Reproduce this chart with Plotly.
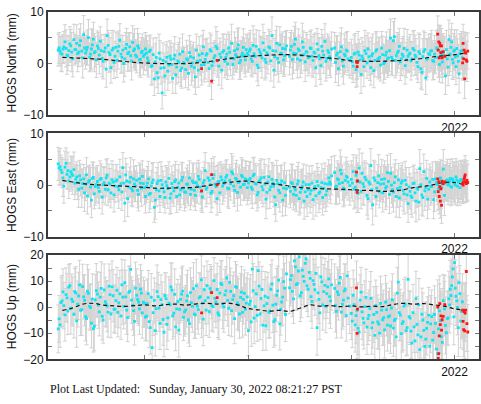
import plotly.graph_objects as go

# --- solution epochs (decimal year), two interleaved sets ---
epochs = [
    2018.160, 2018.178, 2018.197, 2018.215, 2018.236, 2018.254, 2018.273, 2018.291, 2018.312, 2018.330,
    2018.349, 2018.367, 2018.388, 2018.406, 2018.425, 2018.443, 2018.464, 2018.482, 2018.501, 2018.519,
    2018.540, 2018.558, 2018.577, 2018.595, 2018.616, 2018.634, 2018.653, 2018.671, 2018.692, 2018.710,
    2018.729, 2018.747, 2018.768, 2018.786, 2018.805, 2018.823, 2018.844, 2018.862, 2018.881, 2018.899,
    2018.920, 2018.938, 2018.957, 2018.975, 2018.996,
    2019.015, 2019.033, 2019.052, 2019.070, 2019.091, 2019.109, 2019.128, 2019.146, 2019.167, 2019.185,
    2019.204, 2019.222, 2019.243, 2019.261, 2019.280, 2019.298, 2019.319, 2019.337, 2019.356, 2019.374,
    2019.395, 2019.413, 2019.432, 2019.450, 2019.471, 2019.489, 2019.508, 2019.526, 2019.547, 2019.565,
    2019.584, 2019.602, 2019.623, 2019.641, 2019.660, 2019.678, 2019.699, 2019.717, 2019.736, 2019.754,
    2019.775, 2019.793, 2019.812, 2019.830, 2019.851, 2019.869, 2019.888, 2019.906, 2019.927, 2019.945,
    2019.964, 2019.982,
    2020.003, 2020.021, 2020.040, 2020.058, 2020.079, 2020.097, 2020.116, 2020.134, 2020.155, 2020.173,
    2020.192, 2020.210, 2020.231, 2020.249, 2020.268, 2020.286, 2020.307, 2020.325, 2020.344, 2020.362,
    2020.401, 2020.419, 2020.440, 2020.458, 2020.477, 2020.495, 2020.516, 2020.534, 2020.553, 2020.571,
    2020.592, 2020.610, 2020.629, 2020.647, 2020.668, 2020.686, 2020.705, 2020.723, 2020.744, 2020.762,
    2020.781, 2020.799, 2020.838, 2020.856, 2020.875, 2020.893, 2020.914, 2020.932, 2020.951, 2020.969,
    2021.000, 2021.018, 2021.037, 2021.055, 2021.076, 2021.094, 2021.113, 2021.131, 2021.152, 2021.170,
    2021.189, 2021.207, 2021.228, 2021.246, 2021.265, 2021.283, 2021.304, 2021.322, 2021.341, 2021.359,
    2021.380, 2021.398, 2021.417, 2021.435, 2021.456, 2021.474, 2021.493, 2021.511, 2021.532, 2021.550,
    2021.569, 2021.587, 2021.608, 2021.626, 2021.645, 2021.663, 2021.684, 2021.702, 2021.721, 2021.739,
    2021.760, 2021.778, 2021.797, 2021.815, 2021.836, 2021.854, 2021.873, 2021.891, 2021.912, 2021.930,
    2021.945, 2021.958, 2021.972, 2021.986, 2022.000, 2022.014, 2022.029, 2022.044, 2022.060, 2022.076,
]

epochs_mid = [
    2018.169, 2018.187, 2018.206, 2018.225, 2018.245, 2018.263, 2018.282, 2018.301, 2018.321, 2018.339,
    2018.358, 2018.377, 2018.397, 2018.415, 2018.434, 2018.453, 2018.473, 2018.491, 2018.510, 2018.529,
    2018.549, 2018.567, 2018.586, 2018.605, 2018.625, 2018.643, 2018.662, 2018.681, 2018.701, 2018.719,
    2018.738, 2018.757, 2018.777, 2018.795, 2018.814, 2018.833, 2018.853, 2018.871, 2018.890, 2018.909,
    2018.929, 2018.947, 2018.966, 2018.985, 2019.005,
    2019.024, 2019.042, 2019.061, 2019.080, 2019.100, 2019.118, 2019.137, 2019.156, 2019.176, 2019.194,
    2019.213, 2019.232, 2019.252, 2019.270, 2019.289, 2019.308, 2019.328, 2019.346, 2019.365, 2019.384,
    2019.404, 2019.422, 2019.441, 2019.460, 2019.480, 2019.498, 2019.517, 2019.536, 2019.556, 2019.574,
    2019.593, 2019.612, 2019.632, 2019.650, 2019.669, 2019.688, 2019.708, 2019.726, 2019.745, 2019.764,
    2019.784, 2019.802, 2019.821, 2019.840, 2019.860, 2019.878, 2019.897, 2019.916, 2019.936, 2019.954,
    2019.973, 2019.992,
    2020.012, 2020.030, 2020.049, 2020.068, 2020.088, 2020.106, 2020.125, 2020.144, 2020.164, 2020.182,
    2020.201, 2020.220, 2020.240, 2020.258, 2020.277, 2020.296, 2020.316, 2020.334, 2020.353, 2020.372,
    2020.410, 2020.429, 2020.449, 2020.467, 2020.486, 2020.505, 2020.525, 2020.543, 2020.562, 2020.581,
    2020.601, 2020.619, 2020.638, 2020.657, 2020.677, 2020.695, 2020.714, 2020.733, 2020.753, 2020.771,
    2020.790, 2020.809, 2020.847, 2020.865, 2020.884, 2020.903, 2020.923, 2020.941, 2020.960, 2020.985,
    2021.009, 2021.027, 2021.046, 2021.066, 2021.085, 2021.104, 2021.122, 2021.142, 2021.161, 2021.180,
    2021.198, 2021.218, 2021.237, 2021.256, 2021.274, 2021.294, 2021.313, 2021.332, 2021.350, 2021.370,
    2021.389, 2021.408, 2021.426, 2021.446, 2021.465, 2021.484, 2021.502, 2021.522, 2021.541, 2021.560,
    2021.578, 2021.598, 2021.617, 2021.636, 2021.654, 2021.674, 2021.693, 2021.712, 2021.730, 2021.750,
    2021.769, 2021.788, 2021.806, 2021.826, 2021.845, 2021.864, 2021.882, 2021.902, 2021.921, 2021.938,
    2021.952, 2021.965, 2021.979, 2021.993, 2022.007, 2022.022, 2022.037, 2022.052, 2022.068,
]

north = [
    2.6, 2.4, 1.8, 3.2, 2.9, 1.5, 3.8, 2.2, 4.6, 2.7,
    1.9, 3.5, 2.4, 5.6, 2.0, 3.1, 1.2, 2.8, 4.7, 2.3,
    3.4, 1.6, 2.5, 0.4, 3.0, 5.4, 2.1, -0.8, 2.9, 1.4,
    0.6, 3.3, 1.8, 2.6, 0.9, 3.7, 2.2, 1.5, 4.1, 2.8,
    1.3, 3.0, 0.8, 2.4, 1.7,
    2.0, 0.5, 2.6, -0.4, -3.0, 1.2, -2.8, 0.9, -5.7, -0.8,
    0.3, -1.5, 1.4, -0.2, 0.9, -2.2, 0.5, 1.8, -0.9, 0.2,
    -1.2, 0.7, 2.1, -0.5, 1.1, -2.6, 0.4, 1.6, -0.3, 3.2,
    0.8, 1.9, -1.0, 2.4, 0.3, 1.5, 2.9, -0.5, 1.2, 2.2,
    0.4, 1.8, 3.0, 1.0, -0.2, 2.5, 1.3, 3.6, 0.6, 2.0,
    1.5, 2.7,
    1.6, 2.8, 0.4, 1.9, 3.3, -0.8, 2.2, 1.1, 2.6, 0.2,
    1.7, 3.0, 5.4, -1.3, 2.4, 1.0, 3.6, 1.9, 0.7, 2.8,
    1.4, 3.3, 2.0, 4.7, 0.9, 2.5, 1.6, 3.1, 0.3, 2.2,
    1.2, 2.9, 0.6, 2.0, 3.8, 1.5, -0.4, 2.4, 4.3, 1.0,
    2.1, 0.8, 3.0, 1.6, -1.0, 2.3, 0.5, 1.8, 2.6, 0.9,
    1.2, -0.5, 2.0, 0.4, 1.6, -2.1, 0.9, 2.5, 0.1, 1.3,
    -0.8, 1.9, 0.6, 2.7, 1.0, -0.3, 1.7, 0.2, 2.2, 1.1,
    4.9, 0.8, 5.2, 1.5, 2.4, 0.3, 1.8, 2.9, 0.7, 1.4,
    2.0, 0.9, 2.6, 1.3, -0.6, 1.9, -1.7, 2.3, -2.8, 1.0,
    1.7, 2.5, 0.4, 1.2, 2.8, -0.2, 1.6, 2.1, -2.4, 0.9,
    4.6, 1.8, 4.2, 0.1, 2.6, -0.6, 1.5, -2.0, 2.4, 1.1,
]
north_mid = [
    3.0, 1.9, 2.8, 4.2, 1.6, 2.5, 3.4, 0.9, 2.7, 3.9,
    2.2, 4.4, 1.1, 3.0, 2.6, 5.0, 1.8, 3.6, 2.1, 0.7,
    2.9, 4.3, 1.0, 2.3, -1.1, 3.5, 1.7, 2.6, 0.2, 3.1,
    2.4, 4.5, 1.2, 0.0, 2.9, 1.9, 3.2, 0.5, 2.5, 1.6,
    3.4, 0.7, 2.1, 1.4, 2.8,
    1.1, 2.3, -0.6, 1.7, 0.3, -1.8, 2.0, -0.9, 0.6, -2.4,
    1.2, -0.3, 0.8, -2.9, 1.6, -0.7, 0.2, -1.4, 2.3, 0.0,
    0.9, -1.9, 1.3, 0.1, -0.8, 2.6, -1.3, 0.6, 1.9, -0.2,
    1.6, 0.2, 2.7, -0.4, 1.1, 3.3, 0.6, 1.8, -1.3, 2.5,
    1.2, -0.1, 2.2, 3.9, 0.9, 1.7, 2.8, 0.1, 1.5, 3.1,
    0.7, 2.0,
    2.4, 0.9, 3.5, 1.4, -0.3, 2.7, 1.8, 4.0, 0.8, 2.1,
    3.2, 0.5, 2.5, 1.3, 3.9, 0.2, 2.0, 2.9, 1.5, 3.4,
    2.6, 0.8, 3.7, 1.9, 2.8, 0.6, 4.2, 1.7, 2.3, 1.1,
    3.0, 1.4, 2.2, -0.8, 2.7, 0.9, 3.3, 1.6, 0.4, 2.5,
    1.3, 2.8, 0.2, 2.0, 1.1, 3.2, -0.5, 1.5, 2.4, 0.6,
    0.3, 1.8, -1.2, 2.2, 0.7, 1.4, -0.6, 1.9, 2.8, 0.5,
    1.5, -1.4, 2.4, 0.8, 1.2, 3.0, 0.0, 1.6, 0.9, 2.5,
    1.2, 4.4, 0.6, 2.1, 3.3, 0.9, 1.4, -0.4, 2.6, 1.8,
    0.5, 2.9, 1.6, 0.2, 2.3, -1.0, 1.3, 2.7, 0.8, 1.9,
    2.4, 0.6, 1.8, 3.0, 1.2, 2.2, 0.3, 1.5, 2.7, -0.7,
    1.6, 3.1, 0.8, 2.4, 1.3, 2.9, 0.4, 1.9, 2.5,
]

east = [
    4.1, 3.6, 2.4, -0.2, 4.2, 2.8, 1.6, 2.2, 3.0, 1.1,
    0.5, 1.8, -0.6, 1.2, 0.2, -2.1, 0.9, -2.9, 1.5, -0.3,
    0.7, -1.2, 1.3, 0.1, -0.8, 1.9, 0.4, -1.5, 0.6, -0.2,
    1.0, -0.9, 0.3, 3.4, -3.5, 0.8, -0.4, 1.5, -1.1, 0.2,
    0.9, -1.8, 0.4, 1.7, -0.5,
    -0.3, 1.2, -1.6, 0.5, -4.3, -0.9, 0.8, -2.2, 0.1, -1.3,
    0.6, -0.7, -2.5, 0.3, -1.1, 1.0, -0.4, -1.9, 0.9, -0.6,
    -1.4, 0.2, 1.4, -0.8, 0.5, -2.0, -0.1, 1.1, -1.2, 0.4,
    2.8, -0.5, 0.9, -1.6, 1.3, 0.2, -2.6, 0.7, 1.6, -0.2,
    0.8, 1.9, -0.7, 0.3, 2.2, -1.0, 1.1, 0.5, -0.4, 1.6,
    0.2, 1.0,
    0.4, 1.3, -0.8, 2.1, 0.2, -1.4, 0.9, -0.3, 1.5, -2.7,
    0.6, -0.9, 1.1, -0.2, -3.8, 0.3, -1.5, 0.8, -0.6, -2.0,
    -0.4, 0.5, -1.8, -0.9, 0.2, -2.6, -0.7, 0.6, -1.3, -2.2,
    0.1, -1.0, -2.8, -0.3, 0.7, -1.6, -0.5, -2.4, 0.3, -1.1,
    1.4, 0.2, 2.4, -0.2, 1.0, 2.9, 0.5, -0.8, 1.7, 0.6,
    1.1, 2.6, -0.4, 0.8, 3.3, -1.2, 0.3, 1.5, -2.0, 0.6,
    3.8, -3.8, 0.9, -0.6, 1.8, 0.2, -1.5, 1.2, -0.3, 0.7,
    2.3, -0.9, 0.5, -2.2, 1.0, -0.4, 0.8, -1.7, 0.1, -3.6,
    -1.2, -2.4, 0.4, -3.1, -0.8, 3.2, -1.9, 2.6, -0.5, -2.7,
    0.6, -0.3, -2.8, 1.2, 0.1, 0.8, -0.5, 3.1, 0.4, 1.0,
    0.2, 1.3, -0.4, 0.9, 0.5, 1.6, -0.2, 0.7, 1.1, 0.3,
]
east_mid = [
    3.3, 2.9, 1.4, 3.5, 2.1, 0.8, 2.6, 1.9, 0.4, 1.6,
    -0.8, 1.0, 0.3, -1.5, 2.0, 0.6, -0.4, 1.3, -1.7, 0.1,
    -0.5, 1.1, -2.3, 0.5, 1.4, -0.9, 0.2, 1.0, -1.9, 0.8,
    -0.3, 1.6, -1.3, 0.4, 2.0, -2.6, 0.6, -0.7, 1.2, -0.2,
    -1.0, 1.2, -0.6, 0.3, -2.2,
    0.4, -1.8, -0.2, 1.0, -2.9, 0.3, -1.1, 0.9, -0.6, -2.4,
    -0.1, 1.3, -1.7, -0.5, 0.7, -2.2, 0.4, -0.9, 1.5, -1.3,
    0.2, -0.6, -1.8, 0.8, -1.0, 0.5, 1.7, -0.4, -2.3, 0.9,
    -0.8, 1.4, 0.1, -1.2, 2.0, -0.3, 0.6, -1.5, 1.0, 0.3,
    1.5, -0.6, 0.9, 2.6, -0.2, 1.3, -1.4, 0.7, 1.9, 0.1,
    1.2, -0.5,
    1.0, -0.4, 1.8, 0.3, -1.9, 0.7, 1.4, -0.9, 0.2, -1.4,
    1.6, -0.3, 0.4, -2.3, 0.9, -1.0, 0.2, -2.9, 0.5, -0.7,
    -1.2, 0.3, -0.5, -2.0, 0.8, -1.4, -0.2, -3.1, 0.1, -0.9,
    -1.7, 0.4, -0.8, -2.1, -0.1, -1.3, 0.5, -0.6, -1.9, 0.2,
    0.6, 1.8, -0.4, 1.2, 0.3, 2.2, -0.6, 0.9, 1.5, -0.1,
    0.4, -0.8, 1.9, -1.6, 0.6, 2.3, -0.3, 1.0, -2.6, 0.2,
    -0.9, 1.4, -2.2, 0.5, -1.2, 1.1, 0.3, -0.6, 2.4, -1.8,
    0.0, -1.3, 1.6, -0.7, -2.5, 0.4, -1.0, 0.9, -1.9, -0.4,
    -2.1, 0.3, -1.5, -0.6, -3.3, 0.1, -2.4, -1.1, 1.3, -0.8,
    -0.2, 1.1, -1.3, 0.5, -0.7, 1.4, 0.2, -2.0, 0.9, 0.0,
    0.8, -0.3, 1.2, 0.4, 0.0, 1.0, 0.6, -0.5, 0.9,
]

up = [
    -8.3, -6.8, 2.4, 0.6, 4.8, -1.5, 8.3, 3.1, -2.7, 5.5,
    1.2, 8.6, -0.9, 4.0, -3.6, 6.2, 0.3, -6.1, -8.2, 2.8,
    5.0, -1.8, 7.2, -4.9, 2.1, 0.4, 8.1, -2.6, 4.4, -0.7,
    6.5, 1.7, -3.3, 3.9, 9.4, -1.1, 5.7, 14.5, 0.8, -5.4,
    4.6, 2.0, 6.9, -2.2, 1.5,
    -3.4, 5.2, -7.8, -15.5, 2.6, -0.5, 4.1, -6.2, 1.0, -9.6,
    3.3, -4.1, 0.9, 6.6, -2.3, -7.5, 2.2, -0.8, 5.0, -3.9,
    -1.0, 4.4, -6.3, 1.8, 7.1, -2.9, 0.4, 3.6, 10.5, -4.6,
    2.5, 8.3, -1.7, 5.9, 0.2, 3.4, 6.8, -3.0, 9.1, 1.3,
    4.7, 11.2, -0.4, 6.1, 2.9, -4.4, 7.6, 0.9, 3.8, -2.0,
    5.3, 1.6,
    -9.0, 2.3, 14.6, -4.2, 5.1, 14.0, -2.6, 6.8, 0.5, -7.1,
    3.7, -1.4, 8.9, -5.5, 1.2, 6.3, -6.4, 2.0, 9.8, -2.8,
    7.4, 12.1, 3.2, 15.5, 9.0, 19.3, 5.6, 11.8, 16.8, 8.2,
    13.4, 4.1, 10.2, 6.7, -7.8, 3.0, 11.6, 0.9, 8.4, 5.2,
    10.9, 2.4, 7.2, -1.6, 4.8, 11.4, 1.1, 6.3, -3.2, 3.5,
    -2.4, 4.6, -6.8, -1.2, -9.5, 5.8, -4.3, 0.2, -7.6, -3.1,
    3.4, -5.9, -10.8, -2.0, -6.5, 1.5, -4.8, -8.7, -0.9, -3.7,
    -7.2, 2.8, -5.1, -11.4, 9.6, -3.0, -6.3, 0.4, -9.0, 10.7,
    -4.2, -13.8, -7.5, 3.3, -10.6, -16.3, -2.7, -8.9, -12.2, -5.8,
    -14.9, -3.6, -9.7, -6.2, -17.8, -1.4, -11.3, 2.5, -7.0, -4.4,
    3.2, 6.9, 8.3, 14.7, 17.1, 4.2, -0.1, 9.4, -5.3, 2.1,
]
up_mid = [
    -4.5, 1.8, 5.9, -2.9, 3.6, 7.7, -0.4, 2.2, 6.0, -5.2,
    4.3, -1.2, 7.9, 2.6, -4.4, 5.3, -0.1, 3.1, -7.3, 6.4,
    0.8, 3.9, -3.5, 6.6, 1.1, -1.9, 4.8, 7.8, -0.8, 2.5,
    -2.0, 5.1, 8.6, 0.3, 4.0, -4.0, 6.2, 2.7, -1.3, 7.3,
    3.0, -0.6, 5.4, 1.9, -3.8,
    1.4, -5.5, 3.8, -2.1, -9.0, 6.0, -0.3, 2.9, -4.7, 4.5,
    -6.6, 1.6, 7.8, -3.3, 4.9, -0.6, -8.8, 3.0, 6.2, -1.8,
    2.4, -4.9, 5.6, 0.3, -2.7, 8.2, -0.9, 4.1, 1.6, 6.7,
    -1.1, 3.7, 7.1, 0.6, 10.2, 2.0, -2.2, 5.4, 8.7, 0.1,
    6.3, 2.6, 9.5, -1.3, 4.4, 7.9, 1.7, -2.6, 5.8, 3.0,
    -0.8, 4.0,
    1.1, -5.6, 6.4, 0.2, -3.1, 8.1, 3.4, -6.9, 4.2, 1.4,
    -2.0, 6.9, 0.8, -4.8, 4.6, 10.4, -0.7, 3.9, 7.3, 12.8,
    10.6, 6.1, 17.8, 8.7, 13.9, 4.4, 14.2, 9.9, 18.6, 6.9,
    11.1, 2.2, 8.8, 13.0, 5.5, -2.2, 9.7, 6.0, 0.3, 7.8,
    4.1, 8.6, 0.6, 5.9, 9.2, -1.9, 2.7, 7.0, 12.0, 0.4,
    -5.3, 1.0, -3.2, -8.1, 2.7, -1.8, -6.0, 3.8, -4.4, -0.5,
    -7.9, -2.8, 0.6, -5.6, -9.9, -1.1, -4.0, 2.0, -6.9, -3.3,
    -0.3, -8.0, -4.6, 5.4, -2.1, -10.1, -5.5, 1.3, -7.8, -3.6,
    -9.2, -2.1, -12.9, -6.6, 0.9, -11.4, -4.9, -15.0, -8.1, -3.0,
    -6.4, -12.6, -2.8, -16.1, -8.3, -5.1, -13.5, -0.6, -9.8, -4.1,
    0.9, 4.5, 11.6, -3.7, 7.3, 2.4, -7.8, 5.2, -1.6,
]

sig_north = [
    3.1, 2.8, 3.4, 3.0, 3.6, 2.9, 3.3, 3.8, 3.0, 2.7,
    3.5, 3.2, 2.9, 3.7, 3.1, 3.4, 2.8, 3.9, 3.3, 3.0,
    2.9, 3.6, 3.1, 3.4, 2.7, 3.2, 3.8, 3.0, 3.5, 2.9,
    3.3, 3.0, 3.7, 2.8, 3.4, 3.1, 3.6, 3.0, 3.2, 3.9,
    3.1, 2.8, 3.5, 3.3, 3.0,
    3.4, 3.1, 2.9, 3.6, 3.2, 3.8, 3.0, 3.5, 3.1, 2.8,
    3.3, 3.7, 3.0, 3.4, 2.9, 3.6, 3.2, 3.1, 3.9, 3.0,
    3.5, 2.8, 3.3, 3.7, 3.0, 3.4, 3.1, 3.6, 2.9, 3.2,
    3.8, 3.0, 3.4, 3.1, 3.6, 2.9, 3.3, 3.7, 3.0, 3.5,
    3.2, 3.9, 3.1, 3.4, 2.8, 3.6, 3.0, 3.3, 3.7, 3.1,
    3.4, 3.0,
    3.3, 3.6, 3.0, 3.8, 3.2, 3.5, 3.1, 3.9, 3.4, 3.0,
    3.7, 3.2, 3.6, 3.3, 4.0, 3.1, 3.5, 3.8, 3.2, 3.4,
    3.6, 3.1, 3.9, 3.3, 3.7, 3.0, 3.5, 3.2, 3.8, 3.4,
    3.1, 3.6, 3.3, 3.9, 3.0, 3.5, 3.7, 3.2, 3.4, 3.8,
    3.2, 3.5, 3.0, 3.7, 3.3, 3.6, 3.1, 3.9, 3.4, 3.2,
    3.5, 3.2, 3.8, 3.4, 3.1, 3.7, 3.3, 3.9, 3.0, 3.6,
    3.4, 3.8, 3.2, 3.5, 4.0, 3.1, 3.6, 3.3, 3.9, 3.4,
    3.7, 3.2, 3.5, 3.8, 3.3, 3.6, 3.0, 3.9, 3.4, 3.2,
    3.6, 3.3, 3.8, 3.5, 3.1, 3.7, 3.4, 4.0, 3.2, 3.6,
    3.3, 3.9, 3.5, 3.2, 3.7, 3.4, 3.8, 3.1, 3.6, 3.3,
    3.8, 3.4, 3.6, 3.2, 3.9, 3.5, 3.3, 3.7, 3.4, 4.0,
]
sig_north_mid = [
    3.0, 3.4, 2.8, 3.3, 3.7, 2.9, 3.2, 3.5, 3.0, 3.6,
    2.8, 3.3, 3.9, 3.1, 2.9, 3.5, 3.2, 3.0, 3.7, 3.4,
    3.1, 2.8, 3.6, 3.2, 3.5, 2.9, 3.3, 3.8, 3.1, 3.0,
    3.5, 3.2, 2.9, 3.6, 3.1, 3.4, 2.8, 3.7, 3.3, 3.0,
    3.4, 3.1, 2.9, 3.6, 3.2,
    3.3, 3.0, 3.6, 3.2, 3.5, 2.9, 3.7, 3.1, 3.4, 3.8,
    3.0, 3.5, 3.2, 2.9, 3.6, 3.3, 3.9, 3.0, 3.4, 3.1,
    3.6, 3.2, 3.0, 3.5, 3.8, 3.1, 3.3, 2.9, 3.6, 3.4,
    3.1, 3.7, 3.2, 3.5, 3.0, 3.8, 3.3, 3.1, 3.6, 3.2,
    3.5, 3.0, 3.4, 3.7, 3.1, 3.3, 3.9, 3.2, 3.0, 3.6,
    3.3, 3.5,
    3.5, 3.2, 3.8, 3.4, 3.1, 3.7, 3.3, 3.6, 4.0, 3.2,
    3.4, 3.9, 3.1, 3.6, 3.3, 3.8, 3.5, 3.2, 3.7, 3.0,
    3.4, 3.8, 3.5, 3.2, 3.9, 3.3, 3.6, 3.1, 3.7, 3.5,
    3.2, 3.8, 3.4, 3.6, 3.1, 4.0, 3.3, 3.5, 3.8, 3.2,
    3.6, 3.3, 3.9, 3.4, 3.1, 3.7, 3.5, 3.2, 3.8, 3.4,
    3.3, 3.7, 3.4, 4.0, 3.2, 3.6, 3.9, 3.5, 3.1, 3.8,
    3.6, 3.3, 3.7, 3.4, 3.9, 3.2, 3.8, 3.5, 3.6, 4.1,
    3.3, 3.7, 3.4, 3.9, 3.5, 3.2, 3.8, 3.6, 4.0, 3.3,
    3.7, 3.4, 3.9, 3.2, 3.6, 3.8, 3.5, 3.3, 4.0, 3.7,
    3.4, 3.8, 3.6, 3.3, 3.9, 3.5, 4.1, 3.4, 3.7, 3.6,
    3.9, 3.5, 3.8, 3.4, 4.0, 3.6, 3.3, 3.8, 3.7,
]

sig_east = [
    3.2, 3.5, 2.9, 3.3, 3.0, 3.6, 2.8, 3.1, 3.4, 2.9,
    3.3, 3.0, 3.7, 2.8, 3.2, 3.5, 3.0, 3.4, 2.9, 3.6,
    3.1, 3.3, 2.8, 3.5, 3.0, 3.2, 3.7, 2.9, 3.4, 3.1,
    3.0, 3.6, 3.2, 2.9, 3.5, 3.3, 3.0, 3.8, 3.1, 3.4,
    2.9, 3.2, 3.6, 3.0, 3.3,
    3.1, 3.4, 3.0, 3.7, 2.9, 3.3, 3.6, 3.1, 3.5, 3.0,
    3.2, 3.8, 3.1, 3.4, 3.0, 3.6, 3.3, 2.9, 3.5, 3.2,
    3.0, 3.7, 3.3, 3.1, 3.6, 2.9, 3.4, 3.2, 3.8, 3.0,
    3.5, 3.1, 3.3, 3.7, 3.0, 3.4, 3.2, 3.6, 2.9, 3.5,
    3.3, 3.0, 3.8, 3.2, 3.4, 3.1, 3.7, 3.0, 3.5, 3.3,
    3.2, 3.6,
    3.4, 3.1, 3.7, 3.3, 3.6, 3.0, 3.9, 3.2, 3.5, 3.8,
    3.1, 3.6, 3.3, 4.0, 3.2, 3.5, 3.7, 3.1, 3.4, 3.9,
    3.3, 3.6, 3.0, 3.8, 3.4, 3.2, 3.7, 3.5, 3.1, 3.9,
    3.6, 3.3, 3.8, 3.0, 3.5, 3.7, 3.2, 3.4, 4.0, 3.1,
    3.5, 3.8, 3.3, 3.6, 3.2, 3.9, 3.4, 3.1, 3.7, 3.5,
    3.6, 3.3, 3.9, 3.1, 3.7, 3.4, 4.0, 3.2, 3.8, 3.5,
    3.3, 3.9, 3.6, 3.2, 4.1, 3.4, 3.7, 3.5, 3.9, 3.3,
    3.8, 3.4, 3.6, 4.0, 3.2, 3.7, 3.5, 3.9, 3.3, 3.6,
    3.4, 3.8, 3.5, 4.0, 3.3, 3.7, 3.9, 3.4, 3.6, 3.8,
    3.5, 3.2, 3.7, 3.4, 3.9, 3.6, 3.3, 3.8, 3.5, 4.0,
    3.4, 3.7, 3.3, 3.6, 3.9, 3.5, 3.8, 3.4, 3.7, 3.5,
]
sig_east_mid = [
    3.3, 2.9, 3.6, 3.1, 2.8, 3.4, 3.0, 3.7, 3.2, 2.9,
    3.5, 3.1, 2.8, 3.6, 3.3, 3.0, 3.8, 3.2, 2.9, 3.4,
    3.0, 3.6, 3.3, 2.9, 3.5, 3.1, 3.0, 3.7, 3.3, 3.2,
    2.9, 3.4, 3.6, 3.0, 3.2, 3.5, 2.9, 3.3, 3.7, 3.0,
    3.4, 3.1, 3.5, 2.8, 3.2,
    3.2, 3.5, 3.0, 3.4, 3.7, 3.1, 2.9, 3.6, 3.3, 3.0,
    3.5, 3.2, 3.8, 3.0, 3.3, 3.1, 3.6, 3.4, 2.9, 3.7,
    3.1, 3.4, 3.0, 3.5, 3.2, 3.8, 3.1, 3.3, 3.0, 3.6,
    3.4, 2.9, 3.7, 3.2, 3.5, 3.1, 3.3, 3.8, 3.0, 3.4,
    3.2, 3.6, 3.1, 3.5, 3.3, 2.9, 3.6, 3.2, 3.4, 3.0,
    3.5, 3.3,
    3.6, 3.2, 3.5, 3.9, 3.1, 3.4, 3.7, 3.3, 3.8, 3.2,
    3.5, 3.0, 3.7, 3.4, 3.9, 3.3, 3.6, 3.1, 3.8, 3.5,
    3.2, 3.7, 3.4, 3.1, 3.6, 4.0, 3.3, 3.5, 3.8, 3.2,
    3.7, 3.4, 3.1, 3.9, 3.5, 3.3, 3.6, 3.8, 3.2, 3.5,
    3.4, 3.7, 3.2, 3.5, 3.9, 3.3, 3.6, 3.4, 3.1, 3.8,
    3.5, 3.8, 3.4, 3.7, 3.2, 3.9, 3.6, 3.3, 4.0, 3.5,
    3.7, 3.4, 3.8, 3.5, 3.2, 3.9, 3.6, 4.1, 3.4, 3.7,
    3.5, 3.9, 3.3, 3.6, 3.8, 3.4, 4.0, 3.7, 3.5, 3.8,
    3.6, 3.3, 3.9, 3.7, 3.4, 4.1, 3.6, 3.8, 3.5, 3.9,
    3.7, 3.4, 3.8, 3.6, 4.0, 3.5, 3.3, 3.9, 3.6, 3.8,
    3.4, 3.7, 3.9, 3.5, 3.8, 3.6, 4.0, 3.4, 3.7,
]

sig_up = [
    9.2, 8.6, 9.8, 8.9, 10.3, 9.0, 8.4, 9.6, 9.1, 10.0,
    8.8, 9.4, 9.9, 8.5, 9.3, 10.1, 8.7, 9.5, 9.0, 9.7,
    8.6, 9.2, 10.2, 8.9, 9.4, 9.8, 8.5, 9.1, 10.0, 9.3,
    8.8, 9.6, 9.0, 10.4, 8.7, 9.3, 9.9, 8.6, 9.5, 9.1,
    10.1, 8.9, 9.4, 9.7, 8.8,
    9.5, 8.9, 10.2, 9.1, 8.6, 9.8, 9.3, 10.0, 8.7, 9.4,
    9.9, 8.8, 9.6, 10.3, 9.0, 9.2, 8.5, 9.7, 10.1, 8.9,
    9.3, 9.8, 8.7, 9.5, 10.0, 9.1, 8.8, 9.6, 9.2, 10.2,
    8.9, 9.4, 9.9, 8.6, 9.7, 9.0, 10.1, 9.3, 8.8, 9.5,
    9.8, 9.1, 10.4, 8.9, 9.3, 9.6, 8.7, 10.0, 9.2, 9.5,
    9.0, 9.7,
    9.6, 10.2, 9.1, 9.8, 10.5, 9.3, 9.9, 8.9, 10.1, 9.4,
    9.7, 10.3, 9.2, 9.9, 10.6, 9.5, 10.0, 9.3, 9.8, 10.4,
    9.9, 10.5, 9.4, 10.8, 9.7, 10.2, 9.6, 10.9, 10.1, 9.8,
    10.4, 9.5, 10.1, 9.8, 10.6, 9.3, 10.0, 9.7, 10.3, 9.6,
    9.9, 10.5, 9.4, 10.2, 9.7, 10.0, 9.5, 10.3, 9.8, 10.1,
    10.0, 9.6, 10.4, 9.8, 10.7, 9.5, 10.2, 9.9, 10.5, 9.7,
    10.3, 9.8, 10.6, 10.0, 9.6, 10.4, 9.9, 10.8, 10.1, 9.7,
    10.5, 10.0, 9.8, 10.6, 10.2, 9.9, 10.9, 10.3, 9.7, 10.4,
    10.1, 10.7, 9.9, 10.5, 10.2, 11.0, 10.0, 10.6, 10.3, 9.8,
    10.8, 10.2, 10.5, 9.9, 11.1, 10.4, 10.7, 10.1, 10.9, 10.3,
    10.6, 11.0, 10.2, 10.8, 10.4, 11.2, 10.5, 10.9, 10.3, 10.7,
]
sig_up_mid = [
    9.0, 9.7, 8.8, 10.1, 9.3, 8.7, 9.9, 9.4, 8.9, 10.2,
    9.1, 9.6, 8.6, 9.8, 10.0, 9.2, 8.8, 9.7, 9.4, 10.3,
    8.9, 9.5, 9.1, 10.0, 8.7, 9.6, 9.3, 9.9, 8.8, 10.1,
    9.4, 9.0, 9.8, 8.6, 10.2, 9.2, 9.7, 8.9, 9.5, 10.0,
    9.3, 9.8, 8.7, 9.6, 9.1,
    9.4, 10.0, 9.1, 8.8, 9.7, 10.2, 9.0, 9.5, 9.9, 8.7,
    9.6, 10.1, 9.2, 8.9, 9.8, 9.4, 10.3, 9.0, 9.6, 9.3,
    10.0, 8.8, 9.5, 9.9, 9.2, 10.2, 9.4, 8.9, 9.7, 9.1,
    9.8, 10.1, 9.3, 9.6, 8.8, 9.9, 9.4, 10.3, 9.0, 9.7,
    9.2, 9.8, 9.5, 10.0, 9.1, 9.6, 10.2, 9.3, 9.8, 9.4,
    9.9, 9.2,
    9.8, 9.4, 10.3, 9.6, 10.0, 9.2, 10.4, 9.7, 9.5, 10.1,
    9.9, 9.4, 10.5, 9.8, 10.2, 9.6, 10.0, 10.7, 9.5, 10.3,
    10.1, 9.8, 10.6, 10.0, 10.4, 9.9, 10.8, 10.2, 9.7, 10.5,
    10.0, 10.3, 9.6, 10.7, 9.9, 10.2, 9.5, 10.4, 10.1, 9.8,
    10.3, 9.7, 10.1, 9.5, 10.4, 9.9, 10.2, 9.6, 10.0, 10.5,
    10.2, 9.8, 10.6, 10.1, 9.7, 10.5, 10.0, 10.8, 9.9, 10.4,
    10.1, 10.7, 9.8, 10.3, 10.9, 10.0, 10.5, 10.2, 9.9, 10.6,
    10.3, 10.8, 10.1, 9.9, 10.7, 10.4, 11.0, 10.2, 10.6, 10.0,
    10.5, 10.9, 10.3, 10.7, 10.1, 10.8, 10.4, 11.1, 10.2, 10.6,
    10.9, 10.4, 11.0, 10.6, 10.3, 11.2, 10.7, 10.5, 10.9, 10.4,
    10.8, 11.0, 10.5, 10.7, 10.9, 10.6, 11.1, 10.8, 10.5,
]

# --- rapid solutions (red) ---
red_epochs = [
    2019.549, 2019.646, 2019.700,
    2021.050, 2021.056, 2021.060,
    2021.837, 2021.842, 2021.847, 2021.852, 2021.857, 2021.862,
    2021.868, 2021.874, 2021.880, 2021.890, 2021.905,
    2022.078, 2022.083, 2022.088, 2022.093, 2022.098,
    2022.103, 2022.108, 2022.114, 2022.120, 2022.128,
]
red_north = [
    -1.0, -3.4, 0.6,
    0.25, -0.6, 0.2,
    5.7, 2.6, 4.2, 1.1, 3.9, 3.4, 2.1, 3.4, 1.1, 2.3, 1.4,
    0.1, 3.9, 0.9, 2.6, -3.0, 2.1, 2.0, 0.7, 0.4, 2.4,
]
red_east = [
    -1.1, 2.05, 0.05,
    2.5, -1.4, 0.8,
    1.2, -1.25, 0.6, -2.2, -0.3, -3.1, -0.7, -3.9, 0.75, 0.3, 0.6,
    0.3, 0.0, 0.6, 1.2, 1.6, 2.0, 0.6, 0.3, 0.9, 0.5,
]
red_up = [
    -2.2, 5.6, 3.7,
    7.4, -10.0, -0.7,
    0.0, -19.6, -17.8, -11.0, 1.4, -6.7, -3.3, -8.8, -4.8, -3.5, 1.0,
    -1.1, -5.4, -8.6, -1.7, -9.1, -2.3, -1.1, 13.7, -6.3, -9.5,
]
red_sig_north = [
    3.2, 3.6, 3.0, 3.4, 3.8, 3.1, 3.5, 3.9, 3.2, 3.7, 3.3, 4.0, 3.6, 3.4,
    3.8, 3.5, 3.9, 3.3, 3.7, 4.1, 3.5, 3.8, 3.4, 4.0, 3.6, 3.9, 3.5,
]
red_sig_east = [
    3.4, 3.1, 3.7, 3.3, 3.9, 3.5, 3.2, 3.6, 3.9, 3.4, 3.7, 3.3, 3.8, 3.5,
    4.0, 3.6, 3.4, 3.8, 3.5, 3.9, 3.6, 3.3, 3.7, 4.0, 3.5, 3.8, 3.6,
]
red_sig_up = [
    9.4, 10.0, 9.1, 10.3, 9.7, 10.1, 10.5, 9.9, 10.8, 10.2, 10.6, 11.0, 10.4, 10.9,
    10.1, 10.7, 11.2, 10.5, 10.8, 10.3, 11.1, 10.6, 10.9, 10.4, 11.0, 10.7, 10.5,
]

# --- fitted model (dashed) ---
model_epochs = [
    2018.2, 2018.3, 2018.4, 2018.5, 2018.6, 2018.7, 2018.8, 2018.9,
    2019.0, 2019.1, 2019.2, 2019.3, 2019.4, 2019.5, 2019.6, 2019.7, 2019.8, 2019.9,
    2020.0, 2020.1, 2020.2, 2020.3, 2020.4, 2020.5, 2020.6, 2020.7, 2020.8, 2020.9,
    2021.0, 2021.1, 2021.2, 2021.3, 2021.4, 2021.5, 2021.6, 2021.7, 2021.8, 2021.9,
    2022.0, 2022.1,
]
model_north = [
    1.2, 1.1, 1.0, 0.9, 0.8, 0.6, 0.4, 0.2,
    0.1, 0.0, -0.05, -0.05, 0.0, 0.1, 0.3, 0.6, 0.9, 1.2,
    1.4, 1.5, 1.6, 1.7, 1.7, 1.6, 1.4, 1.2, 1.05, 0.8,
    0.5, 0.45, 0.4, 0.45, 0.5, 0.6, 0.8, 1.0, 1.3, 1.5,
    1.7, 2.0,
]
model_east = [
    0.9, 0.6, 0.3, 0.1, 0.0, -0.1, -0.2, -0.3,
    -0.45, -0.6, -0.6, -0.55, -0.5, -0.4, -0.1, 0.2, 0.5, 0.7,
    0.75, 0.5, 0.3, 0.1, -0.2, -0.45, -0.6, -0.7, -0.75, -0.8,
    -0.9, -1.0, -1.05, -1.2, -1.15, -0.9, -0.5, -0.25, 0.1, 0.5,
    0.5, 0.0,
]
model_up = [
    -1.2, -0.3, 1.2, 1.5, 0.8, 0.5, 0.3, 0.6,
    0.9, 0.5, 1.0, 1.2, 0.8, 1.3, 1.5, 1.2, 1.6, 0.9,
    -0.5, -1.0, -1.5, -1.2, -1.6, -0.4, 0.9, 0.4, 0.6, 0.2,
    0.5, 0.1, 0.4, 0.2, 1.0, 1.5, 1.2, 1.4, 0.9, 0.4,
    -0.6, -1.1,
]

x_range = [2018.061, 2022.237]
year_ticks = [2019, 2020, 2021, 2022]
year_labels = ["", "", "", "2022"]
ticks_10 = [-10, -5, 0, 5, 10]
labels_10 = ["\u221210", "", "0", "", "10"]
ticks_20 = [-20, -15, -10, -5, 0, 5, 10, 15, 20]
labels_20 = ["\u221220", "", "\u221210", "", "0", "", "10", "", "20"]

panels = [
    ("HOGS North (mm)", north + north_mid, sig_north + sig_north_mid,
     red_north, red_sig_north, model_north,
     [-10, 10], ticks_10, labels_10, [0.7228, 0.9876]),
    ("HOGS East (mm)", east + east_mid, sig_east + sig_east_mid,
     red_east, red_sig_east, model_east,
     [-10, 10], ticks_10, labels_10, [0.4109, 0.6757]),
    ("HOGS Up (mm)", up + up_mid, sig_up + sig_up_mid,
     red_up, red_sig_up, model_up,
     [-20, 20], ticks_20, labels_20, [0.0965, 0.3639]),
]

all_epochs = epochs + epochs_mid
for p in panels:
    assert len(p[1]) == len(all_epochs) == len(p[2]), (p[0], len(p[1]), len(p[2]), len(all_epochs))
    assert len(p[3]) == len(red_epochs) == len(p[4])
    assert len(p[5]) == len(model_epochs)

SANS = "Liberation Sans, Arial, Helvetica, sans-serif"
GRAY_BAR = "#d2d2d2"
FRAME = "#3a3a3a"

fig = go.Figure()
layout = {}

for i, (title, vals, sig, rvals, rsig, model, yr, tv, tt, dom) in enumerate(panels):
    n = "" if i == 0 else str(i + 1)
    xa, ya = "x" + n, "y" + n

    # error bars first (gray), then points, then model
    for t, v, s in ((all_epochs, vals, sig), (red_epochs, rvals, rsig)):
        fig.add_trace(go.Scatter(
            x=t, y=v, xaxis=xa, yaxis=ya, mode="markers",
            marker=dict(size=2, opacity=0),
            error_y=dict(type="data", array=s, color=GRAY_BAR, thickness=1, width=2),
            showlegend=False, hoverinfo="skip",
        ))
    fig.add_trace(go.Scatter(
        x=all_epochs, y=vals, xaxis=xa, yaxis=ya, mode="markers",
        marker=dict(symbol="square", size=2.8, color="#12e4f2", line=dict(width=0)),
        showlegend=False,
    ))
    fig.add_trace(go.Scatter(
        x=model_epochs, y=model, xaxis=xa, yaxis=ya, mode="lines",
        line=dict(color="#111111", width=1.2, dash="4px,3px", shape="spline"),
        showlegend=False, hoverinfo="skip",
    ))
    fig.add_trace(go.Scatter(
        x=red_epochs, y=rvals, xaxis=xa, yaxis=ya, mode="markers",
        marker=dict(symbol="square", size=2.8, color="#ff1414", line=dict(width=0)),
        showlegend=False,
    ))

    layout["xaxis" + n] = dict(
        domain=[48 / 481, 479 / 481], range=x_range, anchor=ya,
        tickmode="array", tickvals=year_ticks, ticktext=year_labels,
        ticks="inside", ticklen=4, tickwidth=1, tickcolor="#777777",
        showline=True, linewidth=2, linecolor=FRAME, mirror="ticks",
        showgrid=False, zeroline=False,
        tickfont=dict(family=SANS, size=12, color="#111111"),
    )
    layout["yaxis" + n] = dict(
        domain=dom, range=yr, anchor=xa,
        tickmode="array", tickvals=tv, ticktext=tt,
        ticks="inside", ticklen=4, tickwidth=1, tickcolor="#777777",
        showline=True, linewidth=2, linecolor=FRAME, mirror="ticks",
        showgrid=False, zeroline=False,
        tickfont=dict(family=SANS, size=12, color="#111111"),
    )
    fig.add_annotation(
        text=title, xref="paper", yref="paper",
        x=12 / 481, y=(dom[0] + dom[1]) / 2, textangle=-90,
        showarrow=False, xanchor="center", yanchor="middle",
        font=dict(family=SANS, size=12, color="#111111"),
    )

fig.add_annotation(
    text="Plot Last Updated:\u00a0\u00a0\u00a0Sunday, January 30, 2022 08:21:27 PST",
    xref="paper", yref="paper", x=48 / 481, y=1 - 396 / 404,
    xanchor="left", yanchor="middle", showarrow=False,
    font=dict(family="Liberation Serif, Times New Roman, serif", size=12, color="#111111"),
)

fig.update_layout(
    width=481, height=404,
    margin=dict(l=0, r=0, t=0, b=0),
    paper_bgcolor="white", plot_bgcolor="white",
    showlegend=False,
    **layout,
)

fig.write_html(
    "out.html",
    config={"displayModeBar": False},
    post_script="document.body.style.margin='0';document.body.style.overflow='hidden';",
)
